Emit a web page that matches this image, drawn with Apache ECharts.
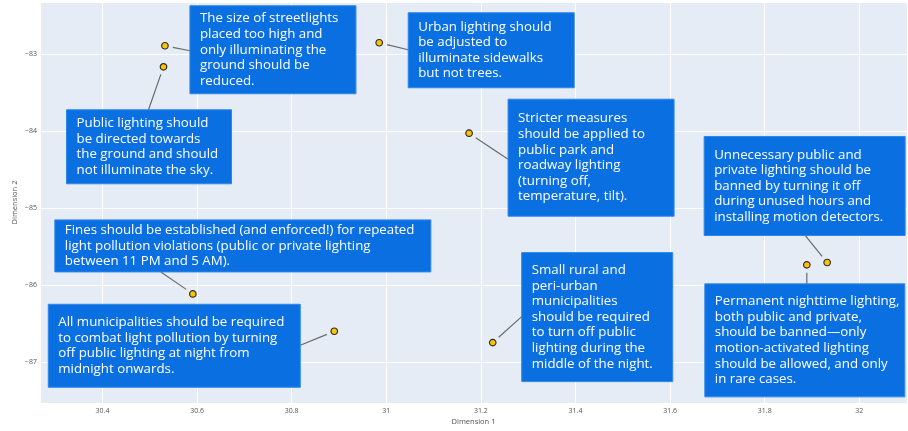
<!DOCTYPE html>
<html><head><meta charset="utf-8">
<script src="https://cdn.jsdelivr.net/npm/echarts@6/dist/echarts.min.js"></script>
<style>html,body{margin:0;padding:0;background:#fff}#c{width:908px;height:431px}</style>
</head><body><div id="c"></div>
<script>
// ---- data ----
const dim1 = [30.532, 30.529, 30.985, 31.175, 30.591, 30.890, 31.225, 31.889, 31.932];
const dim2 = [-82.896, -83.169, -82.857, -84.031, -86.117, -86.602, -86.749, -85.740, -85.709];
const labels = [
  "The size of streetlights\nplaced too high and\nonly illuminating the\nground should be\nreduced.",
  "Public lighting should\nbe directed towards\nthe ground and should\nnot illuminate the sky.",
  "Urban lighting should\nbe adjusted to\nilluminate sidewalks\nbut not trees.",
  "Stricter measures\nshould be applied to\npublic park and\nroadway lighting\n(turning off,\ntemperature, tilt).",
  "Fines should be established (and enforced!) for repeated\nlight pollution violations (public or private lighting\nbetween 11 PM and 5 AM).",
  "All municipalities should be required\nto combat light pollution by turning\noff public lighting at night from\nmidnight onwards.",
  "Small rural and\nperi-urban\nmunicipalities\nshould be required\nto turn off public\nlighting during the\nmiddle of the night.",
  "Permanent nighttime lighting,\nboth public and private,\nshould be banned\u2014only\nmotion-activated lighting\nshould be allowed, and only\nin rare cases.",
  "Unnecessary public and\nprivate lighting should be\nbanned by turning it off\nduring unused hours and\ninstalling motion detectors."
];
const xAxisName = "Dimension 1";
const yAxisName = "Dimension 2";

// ---- annotation layout (pixel offsets relative to each point) ----
const boxOffset = [[25,-40],[-97,43],[29,-30],[39,-34],[-138,-74],[-286,-27],[29,-90],[-102,19],[-123,-126]];
const boxSize = [[166,88],[165,74],[166,75],[166,117],[376,52],[252,83],[151,129],[200,113],[201,99]];
const lineEnd = [[25,5],[-15,43],[29,7],[39,26],[-32,-22],[-34,14],[29,-26],[0,19],[-22,-27]];
const standoff = 8;

const chart = echarts.init(document.getElementById('c'), null, {renderer: 'canvas'});
const pts = dim1.map((x, i) => [x, dim2[i], i]);

chart.setOption({
  animation: false,
  backgroundColor: '#ffffff',
  grid: {left: 40, right: 1, top: 2, bottom: 28, show: true, backgroundColor: '#E5ECF6', borderWidth: 0, containLabel: false, outerBoundsMode: 'none'},
  xAxis: {
    type: 'value', min: 30.2679, max: 32.1008, splitNumber: 9, minInterval: 0.2, maxInterval: 0.2,
    axisLine: {show: false}, axisTick: {show: false},
    splitLine: {show: true, lineStyle: {color: '#ffffff', width: 1}},
    axisLabel: {fontSize: 7, color: '#555', margin: 4, showMinLabel: false, showMaxLabel: false,
      fontFamily: 'Open Sans', formatter: v => String(+v.toFixed(2))},
    name: xAxisName, nameLocation: 'middle', nameGap: 15, nameMoveOverlap: false,
    nameTextStyle: {fontSize: 7.5, color: '#555', fontFamily: 'Open Sans'}
  },
  yAxis: {
    type: 'value', min: -87.533, max: -82.328, splitNumber: 5, minInterval: 1, maxInterval: 1,
    axisLine: {show: false}, axisTick: {show: false},
    splitLine: {show: true, lineStyle: {color: '#ffffff', width: 1}},
    axisLabel: {fontSize: 7, color: '#555', margin: 3, showMinLabel: false, showMaxLabel: false,
      fontFamily: 'Open Sans', formatter: v => (v < 0 ? '\u2212' : '') + Math.abs(Math.round(v))},
    name: yAxisName, nameLocation: 'middle', nameGap: 21, nameRotate: 90, nameMoveOverlap: false,
    nameTextStyle: {fontSize: 7.5, color: '#555', fontFamily: 'Open Sans'}
  },
  series: [
    {
      type: 'custom', z: 2, clip: false, silent: true,
      data: pts, encode: {x: 0, y: 1},
      renderItem: function (params, api) {
        const i = api.value(2);
        const p = api.coord([api.value(0), api.value(1)]);
        const off = boxOffset[i], sz = boxSize[i], le = lineEnd[i];
        const ex = p[0] + le[0], ey = p[1] + le[1];
        const vx = p[0] - ex, vy = p[1] - ey;
        const len = Math.hypot(vx, vy);
        const k = (len - standoff) / len;
        const bx = p[0] + off[0], by = p[1] + off[1];
        return {
          type: 'group',
          children: [
            {type: 'line', shape: {x1: ex, y1: ey, x2: ex + vx * k, y2: ey + vy * k},
              style: {stroke: '#6a6a6a', lineWidth: 1.2}},
            {type: 'rect', shape: {x: bx, y: by, width: sz[0], height: sz[1]},
              style: {fill: '#0A70E2', stroke: '#2F86EA', lineWidth: 1}},
            {type: 'text', style: {x: bx + 10, y: by + sz[1] / 2, text: labels[i], fill: '#ffffff',
              font: '13.3px "Open Sans"', lineHeight: 15.6, align: 'left', verticalAlign: 'middle'}}
          ]
        };
      }
    },
    {
      type: 'scatter', z: 5, symbol: 'circle', symbolSize: 6.5,
      data: pts.map(d => [d[0], d[1]]),
      itemStyle: {color: '#FFC300', borderColor: '#2b2b2b', borderWidth: 1.2, opacity: 1}
    }
  ]
});
</script>
</body></html>
